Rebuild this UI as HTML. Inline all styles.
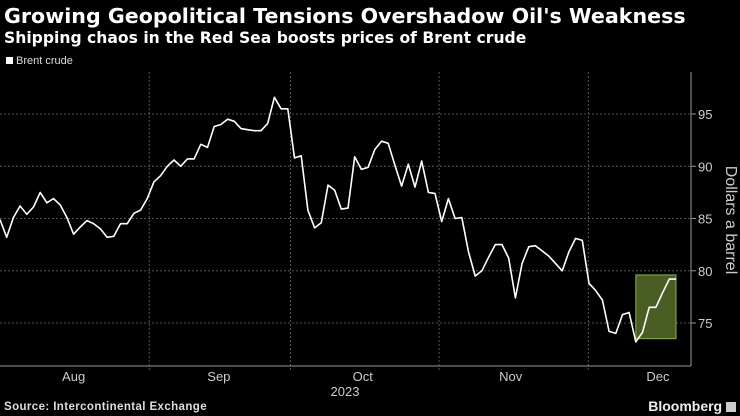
<!DOCTYPE html>
<html><head><meta charset="utf-8"><style>
html,body{margin:0;padding:0;background:#000;}
body{width:740px;height:416px;overflow:hidden;position:relative;font-family:"Liberation Sans",sans-serif;color:#fff;}
.t{position:absolute;white-space:nowrap;}
</style></head><body>
<div class="t" style="left:4px;top:4px;font-size:20.6px;font-weight:bold;font-family:'DejaVu Sans',sans-serif;">Growing Geopolitical Tensions Overshadow Oil's Weakness</div>
<div class="t" style="left:4px;top:29px;font-size:15.6px;font-weight:bold;font-family:'DejaVu Sans',sans-serif;">Shipping chaos in the Red Sea boosts prices of Brent crude</div>
<div class="t" style="left:6px;top:55px;font-size:11px;color:#ddd;"><span style="display:inline-block;width:7px;height:7px;background:#fff;margin-right:3px;"></span>Brent crude</div>
<div class="t" style="left:4px;top:401px;font-size:11.5px;font-weight:bold;letter-spacing:0.4px;color:#ddd;">Source: Intercontinental Exchange</div>
<div class="t" style="right:4px;top:398px;font-size:14px;font-weight:bold;color:#eee;">Bloomberg <span style="display:inline-block;width:10px;height:10px;background:#ccc;vertical-align:-1px;"></span></div>
<svg id="chart" width="740" height="416" style="position:absolute;left:0;top:0;"></svg>
<script>
const values=[84.9,83.2,85.1,86.2,85.4,86.1,87.5,86.5,86.9,86.3,85.1,83.5,84.2,84.8,84.5,84.0,83.2,83.3,84.5,84.5,85.5,85.8,86.9,88.5,89.1,90.0,90.6,90.0,90.7,90.7,92.1,91.8,93.8,94.0,94.5,94.3,93.6,93.5,93.4,93.4,94.1,96.6,95.5,95.5,90.8,91.0,85.8,84.1,84.6,88.2,87.7,85.9,86.0,90.9,89.7,89.9,91.6,92.4,92.2,90.1,88.1,90.2,88.0,90.5,87.5,87.4,84.7,86.9,85.0,85.1,81.8,79.5,80.0,81.3,82.5,82.5,81.2,77.4,80.7,82.3,82.4,81.9,81.4,80.7,80.0,81.8,83.1,82.9,78.8,78.1,77.2,74.2,74.0,75.8,76.0,73.2,74.1,76.5,76.5,77.9,79.2,79.2];
const yTicks=[95,90,85,80,75];
const monthLabels=["Aug","Sep","Oct","Nov","Dec"];
const monthLabelIdx=[11,32.7,54.2,76.3,98.3];
const monthGridIdx=[22.3,43.4,65.6,87.9];
const highlightStart=95, highlightEnd=101, highlightLow=73.5, highlightHigh=79.6;

const NS="http://www.w3.org/2000/svg";
const svg=document.getElementById('chart');
const X0=0,X1=676,N=values.length;
function x(i){return X0+(X1-X0)*i/(N-1);}
function y(v){return 114+(95-v)*10.45;}
function mk(t,a,p){const e=document.createElementNS(NS,t);for(const k in a)e.setAttribute(k,a[k]);(p||svg).appendChild(e);return e;}

yTicks.forEach(v=>{
  const g=mk('line',{x1:0,x2:691,y1:y(v),y2:y(v),stroke:'#555','stroke-dasharray':'2,2','stroke-width':1});
  
  
  const tk=mk('line',{x1:691,x2:696,y1:y(v),y2:y(v),stroke:'#999'});
  
  
  const t=mk('text',{x:698,y:y(v)+5,fill:'#ccc','font-size':13,'font-family':'Liberation Sans, sans-serif'});
  t.textContent=v;
  
  
});
monthGridIdx.forEach(i=>{
  const g=mk('line',{x1:x(i),x2:x(i),y1:72,y2:370,stroke:'#555','stroke-dasharray':'2,2'});
  
  
});
monthLabels.forEach((m,k)=>{
  const t=mk('text',{x:x(monthLabelIdx[k]),y:381,fill:'#ccc','font-size':13,'text-anchor':'middle','font-family':'Liberation Sans, sans-serif'});
  t.textContent=m;
  
  
});
const yr=mk('text',{x:345,y:396,fill:'#ccc','font-size':13,'text-anchor':'middle','font-family':'Liberation Sans, sans-serif'});
yr.textContent='2023';


const ax=mk('line',{x1:0,x2:691,y1:366,y2:366,stroke:'#999'});


const ay=mk('line',{x1:691,x2:691,y1:72,y2:366,stroke:'#999'});


const yt=mk('text',{x:0,y:0,fill:'#ccc','font-size':16,'text-anchor':'middle','font-family':'Liberation Sans, sans-serif',transform:'translate(726,220) rotate(90)'});
yt.textContent='Dollars a barrel';



const hb=mk('rect',{x:x(highlightStart),y:y(highlightHigh),width:x(highlightEnd)-x(highlightStart),height:y(highlightLow)-y(highlightHigh),fill:'#4a5e24',stroke:'#8db04c','stroke-width':1});



const pts=values.map((v,i)=>x(i).toFixed(1)+','+y(v).toFixed(1)).join(' ');
const line=mk('polyline',{points:pts,fill:'none',stroke:'#fff','stroke-width':1.6,'stroke-linejoin':'round'});


</script>
</body></html>
